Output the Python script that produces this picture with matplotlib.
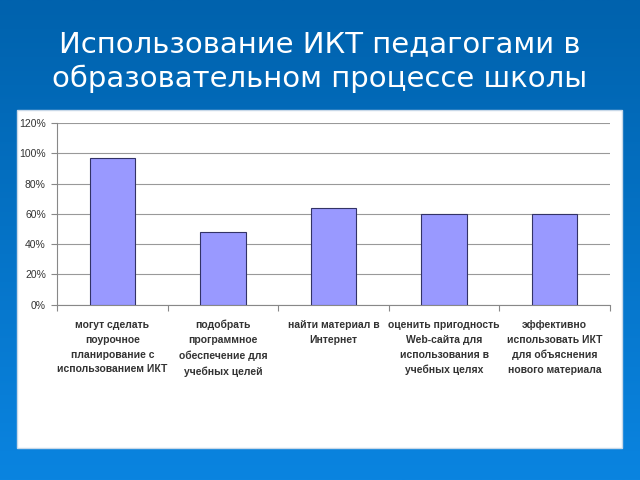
import numpy as np
import matplotlib.pyplot as plt
from matplotlib.patches import Rectangle
from matplotlib.colors import LinearSegmentedColormap

categories = [
    'могут сделать\nпоурочное\nпланирование с\nиспользованием ИКТ',
    'подобрать\nпрограммное\nобеспечение для\nучебных целей',
    'найти материал в\nИнтернет',
    'оценить пригодность\nWeb-сайта для\nиспользования в\nучебных целях',
    'эффективно\nиспользовать ИКТ\nдля объяснения\nнового материала',
]
values = [0.97, 0.48, 0.64, 0.60, 0.60]
y_ticks = [0, 0.2, 0.4, 0.6, 0.8, 1.0, 1.2]
y_labels = ['0%', '20%', '40%', '60%', '80%', '100%', '120%']

fig = plt.figure(figsize=(6.4, 4.8), dpi=100)

# blue gradient background
bg = fig.add_axes([0, 0, 1, 1])
grad = np.linspace(0, 1, 256).reshape(-1, 1)
cmap = LinearSegmentedColormap.from_list('bg', ['#0062ad', '#0a84e0'])
bg.imshow(grad, aspect='auto', cmap=cmap, extent=[0, 1, 0, 1], origin='upper')
bg.axis('off')

# white panel
fig.patches.append(Rectangle((0.027, 0.067), 0.945, 0.704, transform=fig.transFigure,
                             facecolor='white', edgecolor='#c8d8e8', lw=1, zorder=1))

fig.text(0.5, 0.872, 'Использование ИКТ педагогами в\nобразовательном процессе школы',
         ha='center', va='center', color='white', fontsize=21, linespacing=1.3,
         family='DejaVu Sans')

ax = fig.add_axes([0.089, 0.365, 0.864, 0.379])
ax.set_zorder(2)
x = np.arange(len(values))
ax.bar(x, values, width=0.41, color='#9999ff', edgecolor='#333366', linewidth=0.8, zorder=3)
ax.set_xlim(-0.5, len(values) - 0.5)
ax.set_ylim(0, 1.2)
ax.set_yticks(y_ticks)
ax.set_yticklabels(y_labels, fontsize=7.5, family='Liberation Sans', color='#333333')
ax.yaxis.grid(True, color='#999999', linewidth=0.8, zorder=0)
ax.set_axisbelow(True)
for s in ['top', 'right']:
    ax.spines[s].set_visible(False)
ax.spines['left'].set_color('#888888')
ax.spines['bottom'].set_color('#888888')
ax.tick_params(axis='y', length=4, color='#888888', pad=4)

ax.set_xticks(np.arange(len(values) + 1) - 0.5)
ax.set_xticklabels([])
ax.tick_params(axis='x', length=4, color='#888888')
for i, c in enumerate(categories):
    ax.text(i, -0.1, c, ha='center', va='top', fontsize=7.5, fontweight='bold',
            family='Liberation Sans', linespacing=1.6, color='#333333')

fig.savefig('out.png', dpi=100)
